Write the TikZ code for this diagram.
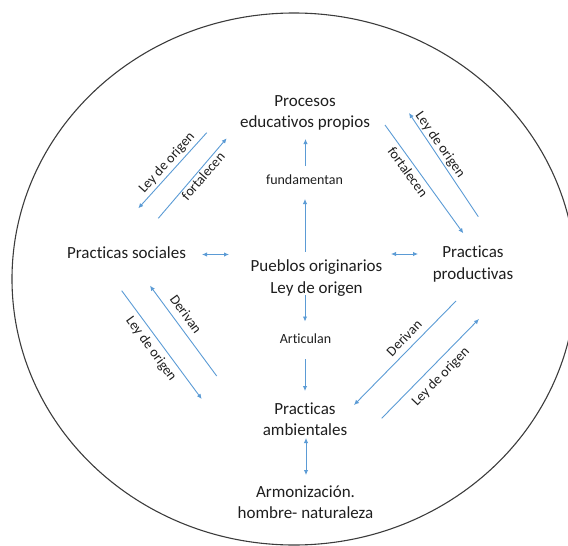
\documentclass[tikz,border=0pt]{standalone}
\usepackage{fontspec}
\setmainfont{Carlito}[Ligatures=NoCommon]
\usetikzlibrary{arrows.meta}
\definecolor{arr}{RGB}{91,155,213}
\definecolor{ring}{RGB}{60,60,60}
\definecolor{txt}{RGB}{30,30,30}
\tikzset{
  main/.style={align=center,font=\fontsize{17}{21.5}\selectfont,inner sep=0pt,text=txt},
  small/.style={font=\fontsize{14}{16}\selectfont,inner sep=0pt,text=txt},
  conn/.style={draw=arr,line width=0.9pt,-{Latex[length=5pt,width=4.5pt]}},
  dconn/.style={draw=arr,line width=0.9pt,{Latex[length=5pt,width=4.5pt]}-{Latex[length=5pt,width=4.5pt]}}
}
\begin{document}
\begin{tikzpicture}[x=1pt,y=-1pt]
\useasboundingbox (0,0) rectangle (568,546);
\draw[ring,line width=1.1pt] (294,279) ellipse [x radius=282, y radius=266];

% main nodes
\node[main] (proc) at (305,113) {Procesos\\educativos propios};
\node[main] (soc) at (126.5,253) {Practicas sociales};
\node[main] (pue) at (316.5,278) {Pueblos originarios\\Ley de origen};
\node[main] (prod) at (473,264) {Practicas\\productivas};
\node[main] (amb) at (305,419) {Practicas\\ambientales};
\node[main] (arm) at (305.5,502) {Armonización.\\hombre- naturaleza};
\node[small] (fund) at (304.5,180) {fundamentan};
\node[small] (art) at (305.5,339) {Articulan};

% connector end points
\coordinate (v1a) at (305.5,166);   \coordinate (v1b) at (305.5,139);
\coordinate (v2a) at (305,251.5);   \coordinate (v2b) at (305,199);
\coordinate (v3a) at (305,295);     \coordinate (v3b) at (305,321.5);
\coordinate (v4a) at (305,359);     \coordinate (v4b) at (305,391);
\coordinate (v5a) at (306,438);     \coordinate (v5b) at (306,475);
\coordinate (h1a) at (202,254.5);   \coordinate (h1b) at (229,254.5);
\coordinate (h2a) at (391,254);     \coordinate (h2b) at (418,254);
\coordinate (d1a) at (206.7,132.7); \coordinate (d1b) at (138.3,208.3);
\coordinate (d2a) at (158.3,218.3); \coordinate (d2b) at (226.7,138.3);
\coordinate (d3a) at (478.3,216.7); \coordinate (d3b) at (409,113);
\coordinate (d4a) at (385,125);     \coordinate (d4b) at (463.3,233.3);
\coordinate (d5a) at (121.7,290.7); \coordinate (d5b) at (201.7,399);
\coordinate (d6a) at (216.7,376);   \coordinate (d6b) at (150,285.7);
\coordinate (d7a) at (456,301);     \coordinate (d7b) at (354,405);
\coordinate (d8a) at (381.7,418.3); \coordinate (d8b) at (479,319);

% connectors
\draw[conn] (v1a) -- (v1b);
\draw[conn] (v2a) -- (v2b);
\draw[conn] (v3a) -- (v3b);
\draw[conn] (v4a) -- (v4b);
\draw[dconn] (v5a) -- (v5b);
\draw[dconn] (h1a) -- (h1b);
\draw[dconn] (h2a) -- (h2b);
\draw[conn] (d1a) -- (d1b);
\draw[conn] (d2a) -- (d2b);
\draw[conn] (d3a) -- (d3b);
\draw[conn] (d4a) -- (d4b);
\draw[conn] (d5a) -- (d5b);
\draw[conn] (d6a) -- (d6b);
\draw[conn] (d7a) -- (d7b);
\draw[conn] (d8a) -- (d8b);

% connector labels
\node[small,rotate=48]  (l1) at (167,163) {Ley de origen};
\node[small,rotate=49]  (l2) at (203,176) {fortalecen};
\node[small,rotate=-55] (l3) at (440,145) {Ley de origen};
\node[small,rotate=-54] (l4) at (408,172) {fortalecen};
\node[small,rotate=-54] (l5) at (151,349) {Ley de origen};
\node[small,rotate=-54] (l6) at (186,314) {Derivan};
\node[small,rotate=46]  (l7) at (404,338) {Derivan};
\node[small,rotate=46]  (l8) at (441,377) {Ley de origen};
\end{tikzpicture}
\end{document}
